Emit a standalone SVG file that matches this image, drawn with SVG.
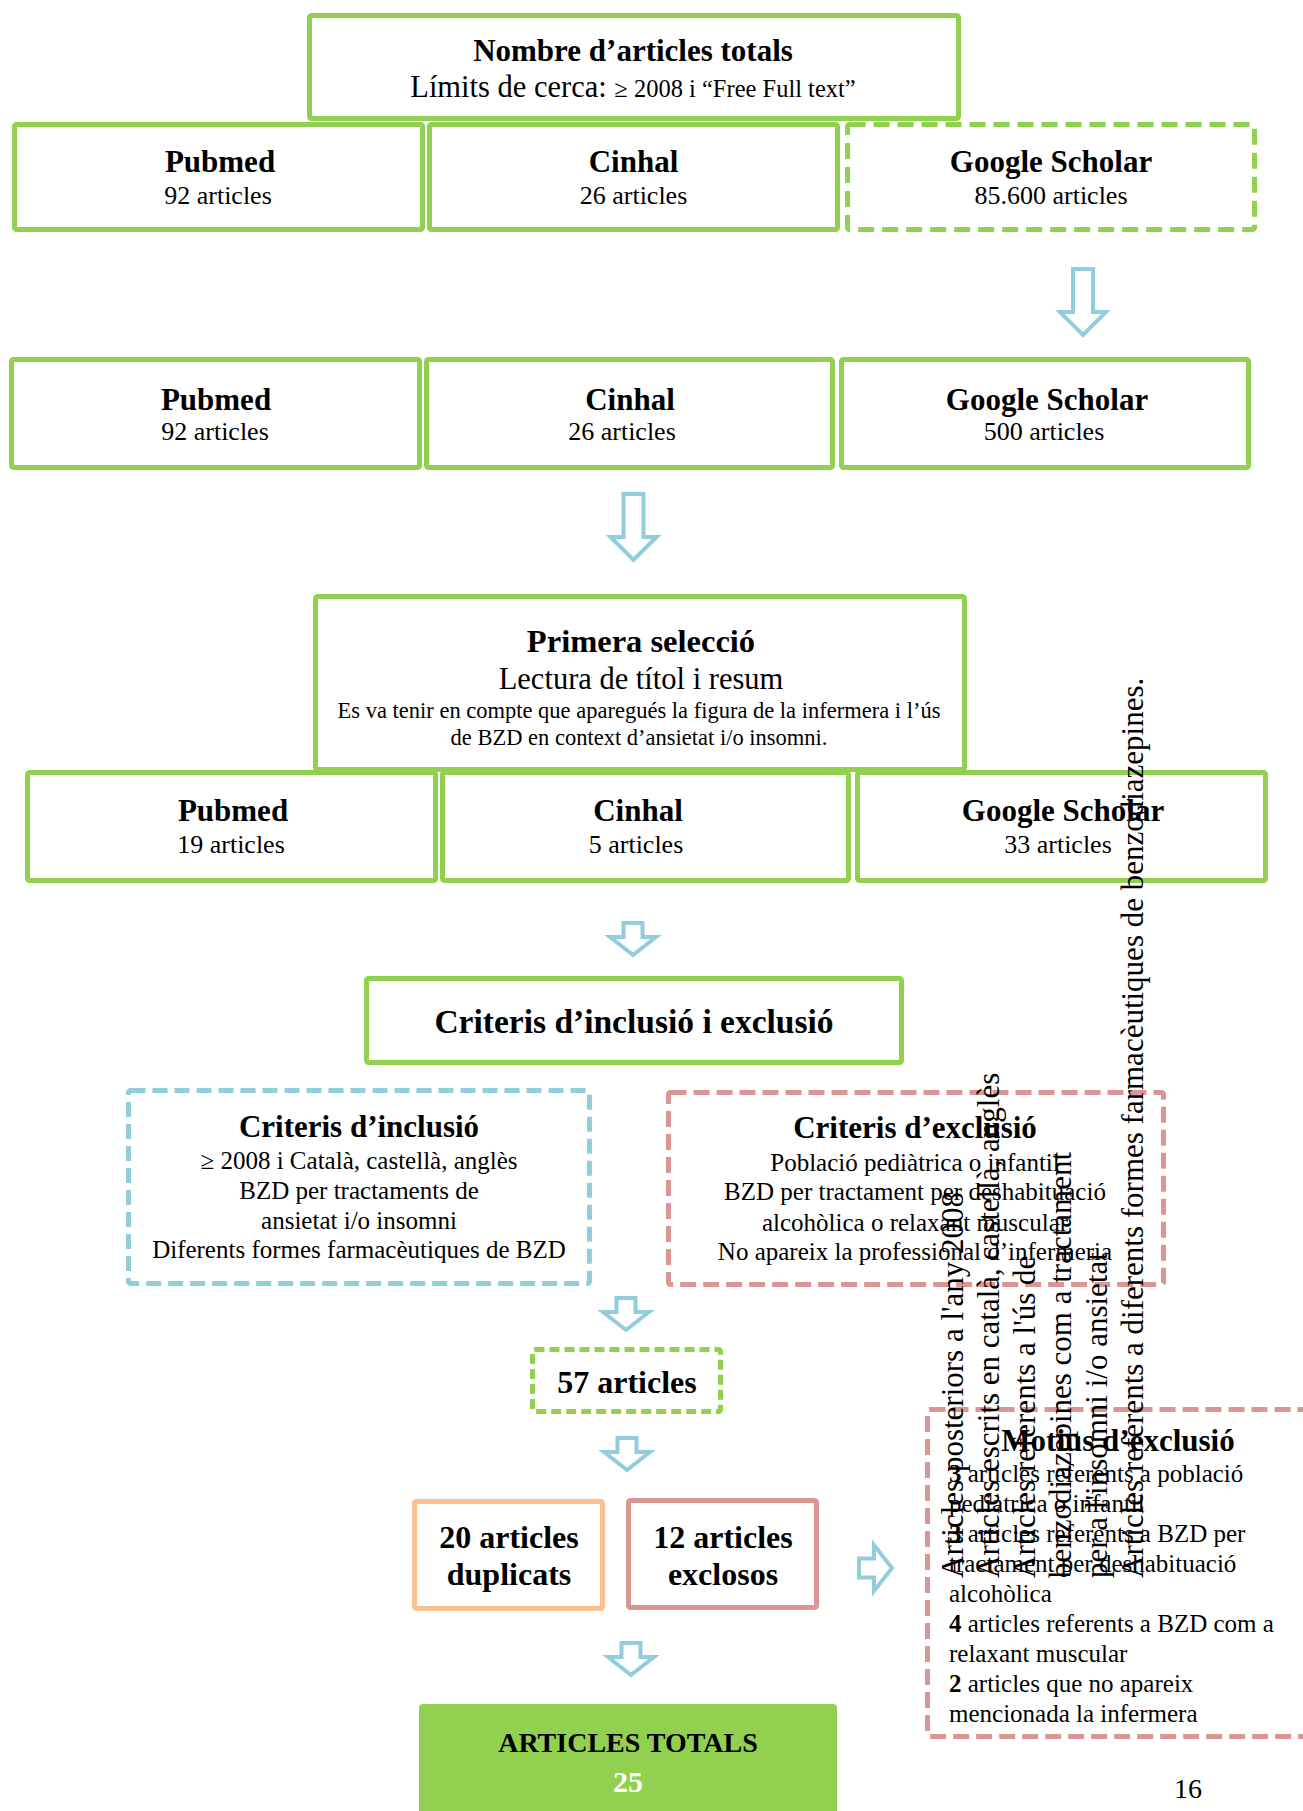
<svg xmlns="http://www.w3.org/2000/svg" width="1303" height="1811" viewBox="0 0 1303 1811">
<style>
  text { font-family: "Liberation Serif", "Times New Roman", serif; fill: #000; }
  .c { text-anchor: middle; }
  .h { font-weight: bold; font-size: 31px; }
  .n { font-size: 26px; }
  .s { font-size: 25px; }
  .box { fill: #fff; stroke: #92D050; stroke-width: 5; }
  .gd { fill: #fff; stroke: #92D050; stroke-width: 5; stroke-dasharray: 16 8; }
  .gd2 { fill: #fff; stroke: #92D050; stroke-width: 5; stroke-dasharray: 10 5; }
  .bd { fill: #fff; stroke: #92CDDC; stroke-width: 5; stroke-dasharray: 15 7; }
  .rd { fill: none; stroke: #D99694; stroke-width: 5; stroke-dasharray: 16 7; }
  .rs { fill: #fff; stroke: #D99694; stroke-width: 5; }
  .os { fill: #fff; stroke: #FAC090; stroke-width: 5; }
  .arr { fill: #fff; stroke: #92CDDC; stroke-width: 4; stroke-linejoin: miter; }
  .v { font-size: 31px; }
</style>
<defs>
  <path id="arrLong" d="M -10 0 H 10 V 43 H 23 L 0 66 L -23 43 H -10 Z"/>
  <path id="arrShort" d="M -9.5 0 H 9.5 V 14 H 23 L 0 32 L -23 14 H -9.5 Z"/>
  <path id="arrRight" d="M 0 -9.5 H 15 V -23 L 33 0 L 15 23 V 9.5 H 0 Z"/>
</defs>

<g id="connectors">
  <use href="#arrLong" class="arr" transform="translate(1083,269)"/>
  <use href="#arrLong" class="arr" transform="translate(633.5,494)"/>
  <use href="#arrShort" class="arr" transform="translate(633,923)"/>
  <use href="#arrShort" class="arr" transform="translate(626,1298)"/>
  <use href="#arrShort" class="arr" transform="translate(627,1438)"/>
  <use href="#arrShort" class="arr" transform="translate(631,1643)"/>
  <use href="#arrRight" class="arr" transform="translate(859,1568)"/>
</g>

<g id="node-total">
  <rect class="box" x="309.5" y="15.5" width="649" height="103" rx="2"/>
  <text class="c h" x="633" y="61">Nombre d’articles totals</text>
  <text class="c" x="633" y="97"><tspan style="font-size:30.5px">Límits de cerca:  </tspan><tspan style="font-size:24.5px">≥ 2008 i “Free Full text”</tspan></text>
</g>

<g id="node-pubmed1">
  <rect class="box" x="14.5" y="124.5" width="408" height="105" rx="2"/>
  <text class="c h" x="220" y="172">Pubmed</text>
  <text class="c n" x="218" y="204">92 articles</text>
</g>
<g id="node-cinhal1">
  <rect class="box" x="429.5" y="124.5" width="408" height="105" rx="2"/>
  <text class="c h" x="633.5" y="172">Cinhal</text>
  <text class="c n" x="633.5" y="204">26 articles</text>
</g>
<g id="node-google1">
  <rect class="gd" x="847.5" y="124.5" width="407" height="105" rx="2"/>
  <text class="c h" x="1051" y="172">Google Scholar</text>
  <text class="c n" x="1051" y="204">85.600 articles</text>
</g>

<g id="node-pubmed2">
  <rect class="box" x="11.5" y="359.5" width="408" height="108" rx="2"/>
  <text class="c h" x="216" y="410">Pubmed</text>
  <text class="c n" x="215" y="440">92 articles</text>
</g>
<g id="node-cinhal2">
  <rect class="box" x="426.5" y="359.5" width="406" height="108" rx="2"/>
  <text class="c h" x="630" y="410">Cinhal</text>
  <text class="c n" x="622" y="440">26 articles</text>
</g>
<g id="node-google2">
  <rect class="box" x="841.5" y="359.5" width="407" height="108" rx="2"/>
  <text class="c h" x="1047" y="410">Google Scholar</text>
  <text class="c n" x="1044" y="440">500 articles</text>
</g>

<g id="node-primera">
  <rect class="box" x="315.5" y="596.5" width="649" height="173" rx="2"/>
  <text class="c h" x="641" y="652" style="font-size:32.5px">Primera selecció</text>
  <text class="c" x="641" y="689" style="font-size:30.5px">Lectura de títol i resum</text>
  <text class="c" x="639" y="718" style="font-size:22.5px">Es va tenir en compte que aparegués la figura de la infermera i l’ús</text>
  <text class="c" x="639" y="745" style="font-size:22.5px">de BZD en context d’ansietat i/o insomni.</text>
</g>

<g id="node-pubmed3">
  <rect class="box" x="27.5" y="772.5" width="408" height="108" rx="2"/>
  <text class="c h" x="233" y="821">Pubmed</text>
  <text class="c n" x="231" y="853">19 articles</text>
</g>
<g id="node-cinhal3">
  <rect class="box" x="442.5" y="772.5" width="406" height="108" rx="2"/>
  <text class="c h" x="638" y="821">Cinhal</text>
  <text class="c n" x="636" y="853">5 articles</text>
</g>
<g id="node-google3">
  <rect class="box" x="857.5" y="772.5" width="408" height="108" rx="2"/>
  <text class="c h" x="1063" y="821">Google Scholar</text>
  <text class="c n" x="1058" y="853">33 articles</text>
</g>

<g id="node-criteris">
  <rect class="box" x="366.5" y="978.5" width="535" height="84" rx="2"/>
  <text class="c h" x="634" y="1033" style="font-size:33.5px">Criteris d’inclusió i exclusió</text>
</g>

<g id="node-inclusio">
  <rect class="bd" x="128.5" y="1090.5" width="461" height="193" rx="2"/>
  <text class="c h" x="359" y="1137">Criteris d’inclusió</text>
  <text class="c s" x="359" y="1169">≥ 2008 i Català, castellà, anglès</text>
  <text class="c s" x="359" y="1199">BZD per tractaments de</text>
  <text class="c s" x="359" y="1229">ansietat i/o insomni</text>
  <text class="c s" x="359" y="1258">Diferents formes farmacèutiques de BZD</text>
</g>

<g id="node-exclusio">
  <rect class="rd" x="668.5" y="1092.5" width="495" height="192" rx="2" style="fill:#fff"/>
  <text class="c h" x="915" y="1138">Criteris d’exclusió</text>
  <text class="c s" x="915" y="1171">Població pediàtrica o infantil</text>
  <text class="c s" x="915" y="1200">BZD per tractament per deshabituació</text>
  <text class="c s" x="915" y="1231">alcohòlica o relaxant muscular</text>
  <text class="c s" x="915" y="1260">No apareix la professional d’infermeria</text>
</g>

<g id="node-57">
  <rect class="gd2" x="532.5" y="1349.5" width="188" height="62" rx="2"/>
  <text class="c h" x="627" y="1393" style="font-size:32px">57 articles</text>
</g>

<g id="node-duplicats">
  <rect class="os" x="414.5" y="1501.5" width="188" height="107" rx="2"/>
  <text class="c h" x="509" y="1548" style="font-size:32px">20 articles</text>
  <text class="c h" x="509" y="1585" style="font-size:32px">duplicats</text>
</g>
<g id="node-exclosos">
  <rect class="rs" x="628.5" y="1500.5" width="188" height="107" rx="2"/>
  <text class="c h" x="723" y="1548" style="font-size:32px">12 articles</text>
  <text class="c h" x="723" y="1585" style="font-size:32px">exclosos</text>
</g>

<g id="node-motius">
  <rect class="rd" x="927.5" y="1409.5" width="400" height="327" rx="2" style="fill:#fff"/>
  <text class="c h" x="1118" y="1451">Motius d’exclusió</text>
  <text class="s" x="949" y="1482"><tspan font-weight="bold">3</tspan> articles referents a població</text>
  <text class="s" x="949" y="1512">pediàtrica o infantil</text>
  <text class="s" x="949" y="1542"><tspan font-weight="bold">3</tspan> articles referents a BZD per</text>
  <text class="s" x="949" y="1572">tractament per deshabituació</text>
  <text class="s" x="949" y="1602">alcohòlica</text>
  <text class="s" x="949" y="1632"><tspan font-weight="bold">4</tspan> articles referents a BZD com a</text>
  <text class="s" x="949" y="1662">relaxant muscular</text>
  <text class="s" x="949" y="1692"><tspan font-weight="bold">2</tspan> articles que no apareix</text>
  <text class="s" x="949" y="1722">mencionada la infermera</text>
</g>

<g id="node-totals">
  <rect x="419" y="1704" width="418" height="120" rx="4" fill="#92D050"/>
  <text class="c h" x="628" y="1752" style="font-size:28px">ARTICLES TOTALS</text>
  <text class="c h" x="628" y="1792" style="font-size:30px;fill:#fff">25</text>
</g>

<g id="vertical-text">
  <text class="v" transform="translate(963,1578) rotate(-90)">Articles posteriors a l'any 2008</text>
  <text class="v" transform="translate(999,1578) rotate(-90)">Articles escrits en català, castellà, anglès</text>
  <text class="v" transform="translate(1035,1578) rotate(-90)">Articles referents a l'ús de</text>
  <text class="v" transform="translate(1071,1578) rotate(-90)">benzodiazepines com a tractament</text>
  <text class="v" transform="translate(1107,1578) rotate(-90)">per a l'insomni i/o ansietat</text>
  <text class="v" transform="translate(1143,1578) rotate(-90)">Articles referents a diferents formes farmacèutiques de benzodiazepines.</text>
</g>

<text x="1188" y="1798" class="c" style="font-size:28px">16</text>
</svg>
